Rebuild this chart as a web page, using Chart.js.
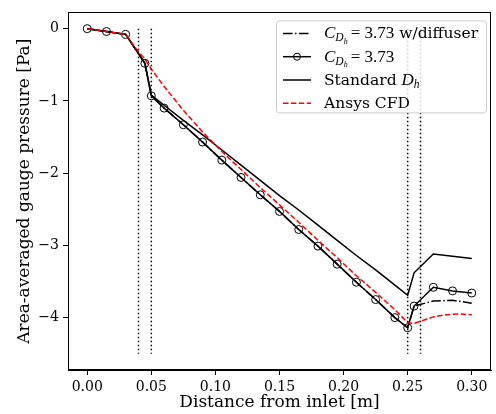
<!DOCTYPE html>
<html>
<head>
<meta charset="utf-8">
<script src="https://cdn.jsdelivr.net/npm/chart.js@4.4.0/dist/chart.umd.min.js"></script>
<style>
  html, body { margin: 0; padding: 0; background: #fff; }
</style>
</head>
<body>
<canvas id="pressureChart" width="496" height="414"></canvas>
<script>
// distance from inlet [m] for the 1D model stations
const xPoints = [0, 0.015, 0.03, 0.045, 0.05, 0.06, 0.075, 0.09, 0.105, 0.12, 0.135, 0.15, 0.165, 0.18, 0.195, 0.21, 0.225, 0.24, 0.25, 0.255, 0.27, 0.285, 0.30];
// area-averaged gauge pressure [Pa]
const diffuserPressure = [0, -0.04, -0.08, -0.48, -0.93, -1.10, -1.33, -1.57, -1.82, -2.06, -2.30, -2.53, -2.78, -3.01, -3.26, -3.51, -3.75, -4.00, -4.14, -3.84, -3.77, -3.76, -3.80];
const cdhPressure = [0, -0.04, -0.08, -0.48, -0.93, -1.10, -1.33, -1.57, -1.82, -2.06, -2.30, -2.53, -2.78, -3.01, -3.26, -3.51, -3.75, -4.00, -4.14, -3.84, -3.58, -3.63, -3.66];
const standardPressure = [0, -0.04, -0.08, -0.48, -0.92, -1.06, -1.27, -1.47, -1.68, -1.89, -2.10, -2.31, -2.51, -2.72, -2.93, -3.14, -3.34, -3.55, -3.69, -3.38, -3.12, -3.15, -3.18];
// CFD result
const cfdX = [0, 0.015, 0.03, 0.04, 0.045, 0.05, 0.06, 0.075, 0.09, 0.105, 0.12, 0.135, 0.15, 0.165, 0.18, 0.195, 0.21, 0.225, 0.24, 0.25, 0.255, 0.26, 0.27, 0.28, 0.29, 0.30];
const cfdPressure = [0, -0.04, -0.08, -0.32, -0.42, -0.56, -0.80, -1.13, -1.43, -1.70, -1.95, -2.20, -2.44, -2.68, -2.93, -3.17, -3.42, -3.65, -3.89, -4.07, -4.08, -4.05, -3.99, -3.96, -3.95, -3.96];
// section boundaries (dotted)
const sectionEdges = [0.04, 0.05, 0.25, 0.26];
const sectionSpan = [0, -4.5];

const xTicks = [0, 0.05, 0.1, 0.15, 0.2, 0.25, 0.3];
const yTicks = [0, -1, -2, -3, -4];

const serif = 'DejaVu Serif';
const mathFont = 'Liberation Serif';

function toPoints(xs, ys) {
    return xs.map((x, i) => ({ x: x, y: ys[i] }));
}

// vertical dotted lines, separated by gaps
const edgePoints = [];
sectionEdges.forEach(x => {
    edgePoints.push({ x: x, y: sectionSpan[0] });
    edgePoints.push({ x: x, y: sectionSpan[1] });
    edgePoints.push({ x: x, y: null });
});

// full box around the plot area, like matplotlib spines
const frame = {
    id: 'frame',
    afterDatasetsDraw(chart) {
        const { ctx, chartArea: a } = chart;
        ctx.save();
        ctx.strokeStyle = '#000';
        ctx.lineWidth = 1;
        ctx.strokeRect(Math.round(a.left) + 0.5, Math.round(a.top) + 0.5, Math.round(a.right - a.left) - 1, Math.round(a.bottom - a.top) - 1);
        ctx.restore();
    }
};

// legend with math labels
function drawPieces(ctx, x, y, pieces) {
    pieces.forEach(p => {
        ctx.font = p.font;
        ctx.fillText(p.text, x, y + (p.dy || 0));
        x += ctx.measureText(p.text).width + (p.gap || 0);
    });
}

const cdhLabel = [
    { text: 'C', font: 'italic 17px ' + mathFont, gap: 0 },
    { text: 'D', font: 'italic 11.5px ' + mathFont, dy: 3 },
    { text: 'h', font: 'italic 8px ' + mathFont, dy: 5.5, gap: 3 },
    { text: '= 3.73', font: '17px ' + mathFont }
];

const legendRows = [
    { dash: [9.6, 2.4, 1.5, 2.4], color: '#000', marker: false, pieces: cdhLabel.concat([{ text: ' w/diffuser', font: '15.5px ' + serif }]) },
    { dash: [], color: '#000', marker: true, pieces: cdhLabel },
    { dash: [], color: '#000', marker: false, pieces: [
        { text: 'Standard ', font: '15.5px ' + serif },
        { text: 'D', font: 'italic 17px ' + mathFont },
        { text: 'h', font: 'italic 11.5px ' + mathFont, dy: 3 }
    ] },
    { dash: [5.5, 2.4], color: '#ff0000', marker: false, pieces: [{ text: 'Ansys CFD', font: '15.5px ' + serif }] }
];

const mathLegend = {
    id: 'mathLegend',
    afterDraw(chart) {
        const { ctx, chartArea: a } = chart;
        const right = a.right - 5, top = a.top + 8;
        const w = 210, h = 92, left = right - w;
        ctx.save();
        ctx.beginPath();
        ctx.roundRect(left + 0.5, top + 0.5, w, h, 3);
        ctx.fillStyle = 'rgba(255,255,255,0.8)';
        ctx.fill();
        ctx.strokeStyle = '#cccccc';
        ctx.lineWidth = 1;
        ctx.stroke();

        legendRows.forEach((row, i) => {
            const y = top + 13 + i * 23.3;
            ctx.beginPath();
            ctx.setLineDash(row.dash);
            ctx.strokeStyle = row.color;
            ctx.lineWidth = 1.5;
            ctx.moveTo(left + 7, y);
            ctx.lineTo(left + 35, y);
            ctx.stroke();
            ctx.setLineDash([]);
            if (row.marker) {
                ctx.beginPath();
                ctx.lineWidth = 1;
                ctx.arc(left + 21, y, 3.5, 0, Math.PI * 2);
                ctx.stroke();
            }
            ctx.fillStyle = '#000';
            ctx.textBaseline = 'alphabetic';
            drawPieces(ctx, left + 48, y + 5, row.pieces);
        });
        ctx.restore();
    }
};

const ctx = document.getElementById('pressureChart').getContext('2d');
const chart = new Chart(ctx, {
    type: 'line',
    data: {
        datasets: [
            {
                label: 'Ansys CFD',
                data: toPoints(cfdX, cfdPressure),
                borderColor: '#ff0000',
                borderWidth: 1.5,
                borderDash: [5.5, 2.4],
                pointRadius: 0,
                order: 1
            },
            {
                label: 'Standard Dh',
                data: toPoints(xPoints, standardPressure),
                borderColor: '#000',
                borderWidth: 1.5,
                pointRadius: 0,
                order: 2
            },
            {
                label: 'CDh = 3.73',
                data: toPoints(xPoints, cdhPressure),
                borderColor: '#000',
                borderWidth: 1.5,
                pointRadius: 4,
                pointBorderWidth: 1,
                pointBorderColor: '#000',
                pointBackgroundColor: 'transparent',
                order: 3
            },
            {
                label: 'CDh = 3.73 w/diffuser',
                data: toPoints(xPoints, diffuserPressure),
                borderColor: '#000',
                borderWidth: 1.5,
                borderDash: [9.6, 2.4, 1.5, 2.4],
                pointRadius: 0,
                order: 4
            },
            {
                label: 'sections',
                data: edgePoints,
                borderColor: '#000',
                borderWidth: 1.5,
                borderDash: [1.5, 2.5],
                pointRadius: 0,
                spanGaps: false,
                order: 0
            }
        ]
    },
    options: {
        responsive: false,
        animation: false,
        layout: { padding: { top: 8, right: 5, left: 0, bottom: 0 } },
        elements: { line: { tension: 0 } },
        plugins: {
            legend: { display: false },
            tooltip: { enabled: false }
        },
        scales: {
            x: {
                type: 'linear',
                min: -0.015,
                max: 0.315,
                afterBuildTicks: scale => { scale.ticks = xTicks.map(v => ({ value: v })); },
                afterFit: scale => { scale.height = 44; },
                ticks: {
                    callback: v => v.toFixed(2),
                    font: { family: serif, size: 14 },
                    color: '#000',
                    padding: 4,
                    maxRotation: 0,
                    autoSkip: false
                },
                grid: { drawOnChartArea: false, tickLength: 5, tickColor: '#000' },
                border: { color: '#000', width: 1 },
                title: {
                    display: true,
                    text: 'Distance from inlet [m]',
                    font: { family: serif, size: 17 },
                    color: '#000',
                    padding: { top: 0, bottom: 1 }
                }
            },
            y: {
                type: 'linear',
                min: -4.725,
                max: 0.225,
                afterBuildTicks: scale => { scale.ticks = yTicks.map(v => ({ value: v })); },
                afterFit: scale => { scale.width = 68; },
                ticks: {
                    callback: v => v < 0 ? '\u2212' + Math.abs(v) : String(v),
                    font: { family: serif, size: 14 },
                    color: '#000',
                    padding: 4
                },
                grid: { drawOnChartArea: false, tickLength: 5, tickColor: '#000' },
                border: { color: '#000', width: 1 },
                title: {
                    display: true,
                    text: 'Area-averaged gauge pressure [Pa]',
                    font: { family: serif, size: 17 },
                    color: '#000',
                    padding: { top: 14, bottom: 0 }
                }
            }
        }
    },
    plugins: [frame, mathLegend]
});
</script>
</body>
</html>
